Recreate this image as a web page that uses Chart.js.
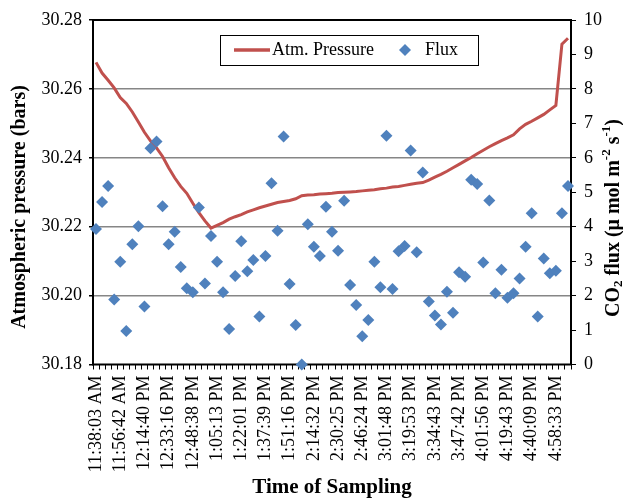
<!DOCTYPE html>
<html>
<head>
<meta charset="utf-8">
<script src="https://cdn.jsdelivr.net/npm/chart.js@4/dist/chart.umd.min.js"></script>
<style>
  body { margin: 0; background: #fff; }
</style>
</head>
<body>
<canvas id="chart" width="623" height="501"></canvas>
<script>
//canvas element
const ctx = document.getElementById('chart').getContext('2d');

/**
 * Graph-data
 */
// sampling times shown on the axis (every 4th sample)
const timeLabels = ['11:38:03 AM', '11:56:42 AM', '12:14:40 PM', '12:33:16 PM', '12:48:38 PM',
    '1:05:13 PM', '1:22:01 PM', '1:37:39 PM', '1:51:16 PM', '2:14:32 PM',
    '2:30:25 PM', '2:46:24 PM', '3:01:48 PM', '3:19:53 PM', '3:34:43 PM',
    '3:47:42 PM', '4:01:56 PM', '4:19:43 PM', '4:40:09 PM', '4:58:33 PM'];

// atmospheric pressure (bars), one per sample
const pressure = [30.2677, 30.2646, 30.2625, 30.2603, 30.2575, 30.2558, 30.2533, 30.2504, 30.2474, 30.2449,
    30.2429, 30.2404, 30.2371, 30.2342, 30.2317, 30.2297, 30.2268, 30.2241, 30.2217, 30.2196,
    30.2204, 30.2212, 30.2222, 30.2229, 30.2235, 30.2243, 30.2249, 30.2255, 30.2260, 30.2265,
    30.2270, 30.2273, 30.2276, 30.2281, 30.2290, 30.2292, 30.2293, 30.2295, 30.2296, 30.2297,
    30.2299, 30.2300, 30.2301, 30.2302, 30.2304, 30.2306, 30.2307, 30.2310, 30.2312, 30.2315,
    30.2317, 30.2320, 30.2323, 30.2326, 30.2328, 30.2335, 30.2344, 30.2352, 30.2361, 30.2371,
    30.2381, 30.2391, 30.2401, 30.2412, 30.2422, 30.2432, 30.2441, 30.2450, 30.2458, 30.2467,
    30.2484, 30.2497, 30.2506, 30.2516, 30.2526, 30.2539, 30.2552, 30.2730, 30.2747];

// CO2 flux (umol m-2 s-1), one per sample
const flux = [3.93, 4.72, 5.18, 1.89, 2.98, 0.97, 3.49, 4.01, 1.68, 6.28,
    6.47, 4.59, 3.49, 3.85, 2.83, 2.21, 2.10, 4.56, 2.35, 3.73,
    2.98, 2.10, 1.03, 2.57, 3.58, 2.71, 3.03, 1.39, 3.15, 5.26,
    3.88, 6.62, 2.34, 1.15, 0.00, 4.07, 3.42, 3.15, 4.58, 3.85,
    3.30, 4.75, 2.31, 1.73, 0.82, 1.29, 2.98, 2.24, 6.64, 2.19,
    3.29, 3.44, 6.21, 3.26, 5.57, 1.83, 1.42, 1.16, 2.11, 1.50,
    2.68, 2.55, 5.36, 5.24, 2.96, 4.76, 2.07, 2.75, 1.94, 2.07,
    2.50, 3.42, 4.39, 1.39, 3.08, 2.65, 2.72, 4.39, 5.18];

// category for every sample, only every 4th one gets a name
const categories = flux.map((v, i) => i % 4 === 0 ? timeLabels[i / 4] : '');

/**
 * Styles
 */
const serif = 'Liberation Serif, Times New Roman, serif';
const lineColor = '#C0504D';
const fluxColor = '#4F81BD';
const gridColor = '#868686';

/**
 * Frame round the plot area
 */
const frame = {
    id: 'frame',
    beforeDatasetsDraw(chart) {
        const a = chart.chartArea;
        const c = chart.ctx;
        c.save();
        c.strokeStyle = '#000';
        c.lineWidth = 2;
        c.strokeRect(a.left, a.top, a.right - a.left, a.bottom - a.top);
        c.restore();
    }
};

/**
 * draws a row of text parts, each with its own size and vertical shift
 */
function drawParts(c, parts, x, y) {
    var total = 0;
    parts.forEach(p => {
        c.font = p.font;
        p.w = c.measureText(p.text).width;
        total += p.w;
    });
    var cx = x - total / 2;
    parts.forEach(p => {
        c.font = p.font;
        c.fillText(p.text, cx, y + (p.dy || 0));
        cx += p.w;
    });
}

/**
 * Axis titles (right one needs sub- and superscripts)
 */
const axisTitles = {
    id: 'axisTitles',
    afterDraw(chart) {
        const c = chart.ctx;
        const a = chart.chartArea;
        c.save();
        c.fillStyle = '#000';
        c.textBaseline = 'middle';
        c.textAlign = 'center';

        //bottom title
        c.font = 'bold 21px ' + serif;
        c.fillText('Time of Sampling', (a.left + a.right) / 2, 488);

        //left title
        c.save();
        c.translate(20, 207);
        c.rotate(-Math.PI / 2);
        c.font = 'bold 20px ' + serif;
        c.fillText('Atmospheric pressure (bars)', 0, 0);
        c.restore();

        //right title
        c.save();
        c.translate(614, 218);
        c.rotate(-Math.PI / 2);
        c.textAlign = 'left';
        const big = 'bold 20px ' + serif;
        const small = 'bold 13px ' + serif;
        drawParts(c, [
            {text: 'CO', font: big},
            {text: '2', font: small, dy: 5},
            {text: ' flux (\u03bc mol m', font: big},
            {text: '-2', font: small, dy: -7},
            {text: ' s', font: big},
            {text: '-1', font: small, dy: -7},
            {text: ')', font: big}
        ], 0, 0);
        c.restore();

        c.restore();
    }
};

/**
 * Legend box inside the plot area
 */
const legendBox = {
    id: 'legendBox',
    afterDatasetsDraw(chart) {
        const c = chart.ctx;
        c.save();
        c.fillStyle = '#fff';
        c.fillRect(220, 35, 258, 30);
        c.strokeStyle = '#000';
        c.lineWidth = 1;
        c.strokeRect(220.5, 35.5, 258, 30);

        c.strokeStyle = lineColor;
        c.lineWidth = 3.5;
        c.beginPath();
        c.moveTo(234, 50);
        c.lineTo(270, 50);
        c.stroke();

        c.fillStyle = fluxColor;
        c.beginPath();
        c.moveTo(405, 44);
        c.lineTo(411, 50);
        c.lineTo(405, 56);
        c.lineTo(399, 50);
        c.closePath();
        c.fill();

        c.fillStyle = '#000';
        c.font = '18px ' + serif;
        c.textBaseline = 'middle';
        c.textAlign = 'left';
        c.fillText('Atm. Pressure', 272, 50);
        c.fillText('Flux', 425, 50);
        c.restore();
    }
};

const isEdge = (v) => Math.abs(v - 30.18) < 1e-6 || Math.abs(v - 30.28) < 1e-6;

new Chart(ctx, {
    type: 'line',
    data: {
        labels: categories,
        datasets: [{
            label: 'Atm. Pressure',
            data: pressure,
            yAxisID: 'y',
            borderColor: lineColor,
            backgroundColor: lineColor,
            borderWidth: 3,
            pointRadius: 0,
            tension: 0,
            order: 1
        }, {
            label: 'Flux',
            data: flux,
            yAxisID: 'y1',
            showLine: false,
            pointStyle: 'rectRot',
            pointRadius: 6,
            pointBackgroundColor: fluxColor,
            pointBorderColor: fluxColor,
            pointBorderWidth: 0,
            clip: false,
            order: 0
        }]
    },
    options: {
        responsive: false,
        animation: false,
        layout: { padding: { top: 20, left: 0, right: 0, bottom: 0 } },
        plugins: {
            legend: { display: false },
            tooltip: { enabled: false }
        },
        scales: {
            x: {
                offset: true,
                afterFit: (s) => { s.height = 136.5; },
                border: { display: false },
                grid: {
                    offset: true,
                    drawOnChartArea: false,
                    tickLength: 5,
                    tickColor: '#000',
                    tickWidth: 1
                },
                ticks: {
                    autoSkip: false,
                    minRotation: 90,
                    maxRotation: 90,
                    padding: 6,
                    color: '#000',
                    font: { family: serif, size: 18 }
                }
            },
            y: {
                position: 'left',
                min: 30.18,
                max: 30.28,
                afterFit: (s) => { s.width = 93; },
                border: { display: false },
                grid: {
                    color: (c) => isEdge(c.tick.value) ? 'rgba(0,0,0,0)' : gridColor,
                    lineWidth: 1.5,
                    tickLength: 4,
                    tickColor: '#000'
                },
                ticks: {
                    stepSize: 0.02,
                    padding: 7,
                    color: '#000',
                    font: { family: serif, size: 18 },
                    callback: (v) => v.toFixed(2)
                }
            },
            y1: {
                position: 'right',
                min: 0,
                max: 10,
                afterFit: (s) => { s.width = 52; },
                border: { display: false },
                grid: {
                    drawOnChartArea: false,
                    tickLength: 5,
                    tickColor: '#000'
                },
                ticks: {
                    stepSize: 1,
                    padding: 8,
                    color: '#000',
                    font: { family: serif, size: 18 }
                }
            }
        }
    },
    plugins: [frame, axisTitles, legendBox]
});
</script>
</body>
</html>
